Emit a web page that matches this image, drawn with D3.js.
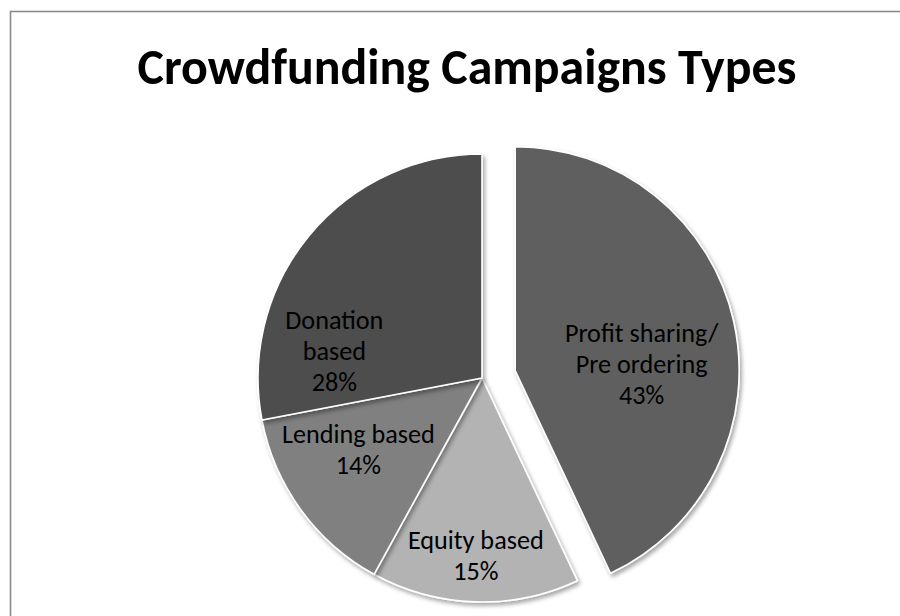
<!DOCTYPE html>
<html>
<head>
<meta charset="utf-8">
<script src="https://cdn.jsdelivr.net/npm/d3@7/dist/d3.min.js"></script>
<style>
  html, body { margin: 0; padding: 0; background: #fff; }
  svg { display: block; }
</style>
</head>
<body>
<svg id="chart" width="900" height="616"></svg>
<script>
// Campaign types and their share of all crowdfunding campaigns (%)
const categories = [["Profit sharing/", "Pre ordering"], ["Equity based"], ["Lending based"], ["Donation", "based"]];
const values = [43, 15, 14, 28];
const colors = ["#5f5f5f", "#b3b3b3", "#808080", "#4e4e4e"];
const title = "Crowdfunding Campaigns Types";

const W = 900, H = 616;
const cx = 482, cy = 378, R = 224;
const explodeIdx = 0, explodeDist = 34;
// label placement: fraction of radius and angular nudge (degrees) from slice middle
const labelLayout = [
  { rf: 0.565, nudge: 9.9 },
  { rf: 0.795, nudge: 0.2 },
  { rf: 0.64, nudge: 5.6 },
  { rf: 0.67, nudge: -29.4 }
];
const lineH = 31;

const svg = d3.select("#chart");

const defs = svg.append("defs");
const shadow = defs.append("filter").attr("id", "shadow")
  .attr("x", "-10%").attr("y", "-10%").attr("width", "125%").attr("height", "125%");
shadow.append("feDropShadow")
  .attr("dx", 2).attr("dy", 3).attr("stdDeviation", 2.2)
  .attr("flood-color", "#000").attr("flood-opacity", 0.35);

// chart frame
svg.append("rect")
  .attr("x", 10.5).attr("y", 11.5)
  .attr("width", W).attr("height", H)
  .attr("fill", "none").attr("stroke", "#8a8a8a").attr("stroke-width", 1.6);

// title, sized to span its box width
const titleFont = "Carlito, Calibri, 'Open Sans', sans-serif";
const titleText = svg.append("text")
  .attr("x", 467).attr("y", 84)
  .attr("text-anchor", "middle")
  .attr("font-family", titleFont)
  .attr("font-weight", "bold")
  .attr("font-size", 46)
  .attr("fill", "#000")
  .text(title);
const tw = titleText.node().getComputedTextLength();
titleText.attr("font-size", 46 * 659 / tw);

const pie = d3.pie().sort(null).value(d => d)
  .startAngle(0).endAngle(2 * Math.PI);
const arcs = pie(values);
const arc = d3.arc().innerRadius(0).outerRadius(R);

const offsetOf = (d, i) => {
  if (i !== explodeIdx) return [0, 0];
  const a = (d.startAngle + d.endAngle) / 2;
  return [explodeDist * Math.sin(a), -explodeDist * Math.cos(a)];
};

const g = svg.append("g").attr("transform", `translate(${cx},${cy})`);

g.selectAll("path.slice")
  .data(arcs)
  .join("path")
  .attr("class", "slice")
  .attr("transform", (d, i) => { const o = offsetOf(d, i); return `translate(${o[0]},${o[1]})`; })
  .attr("d", arc)
  .attr("fill", (d, i) => colors[i])
  .attr("stroke", "#fff")
  .attr("stroke-width", 1.6)
  .attr("stroke-linejoin", "round")
  .attr("filter", "url(#shadow)");

// data labels
const labelFont = "Carlito, Calibri, 'Open Sans', sans-serif";
const probe = svg.append("text").attr("font-family", labelFont).attr("font-size", 100).text("Lending based");
const fs = Math.min(28, 100 * 153 / probe.node().getComputedTextLength());
probe.remove();
const capH = fs * 0.64;

const labels = g.selectAll("text.lbl")
  .data(arcs)
  .join("text")
  .attr("class", "lbl")
  .attr("font-family", labelFont)
  .attr("font-size", fs)
  .attr("fill", "#000")
  .attr("text-anchor", "middle");

labels.each(function (d, i) {
  const o = offsetOf(d, i);
  const lay = labelLayout[i];
  const a = (d.startAngle + d.endAngle) / 2 + lay.nudge * Math.PI / 180;
  const x = o[0] + lay.rf * R * Math.sin(a);
  const y = o[1] - lay.rf * R * Math.cos(a);
  const lines = categories[i].concat([values[i] + "%"]);
  const y0 = y - (lines.length - 1) * lineH / 2 + capH / 2;
  d3.select(this).selectAll("tspan")
    .data(lines)
    .join("tspan")
    .attr("x", x)
    .attr("y", (t, k) => y0 + k * lineH)
    .text(t => t);
});
</script>
</body>
</html>
